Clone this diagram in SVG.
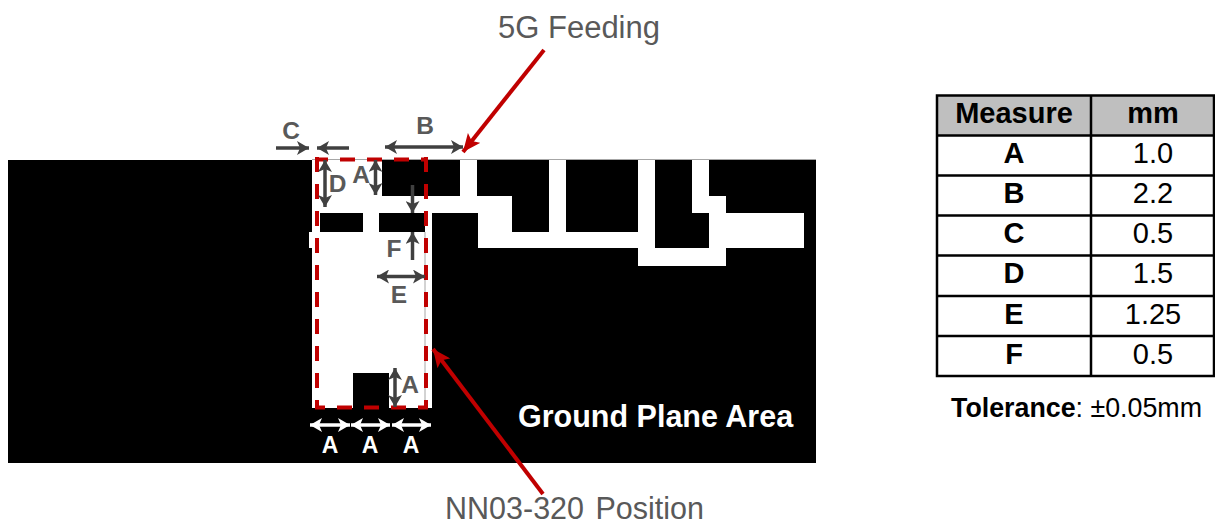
<svg xmlns="http://www.w3.org/2000/svg" width="1215" height="522" viewBox="0 0 1215 522">
<style>
text{font-family:"Liberation Sans",Arial,sans-serif}
.lbl{font-weight:700;font-size:24.500px;fill:#595959;text-anchor:middle}
.wl{font-weight:700;font-size:23px;fill:#fff;text-anchor:middle}
.cap{font-size:31px;fill:#595959}
.g{stroke:#404040;stroke-width:3.500;fill:none;marker-start:url(#gs);marker-end:url(#ge)}
.g1{stroke:#404040;stroke-width:3.500;fill:none;marker-end:url(#ge)}
.w{stroke:#fff;stroke-width:3.500;fill:none;marker-start:url(#ws);marker-end:url(#we)}
.r{stroke:#c00000;stroke-width:4;fill:none;marker-end:url(#re)}
.d{stroke:#c00000;stroke-width:4;fill:none;stroke-dasharray:15 12}
.cell{fill:none;stroke:#000;stroke-width:2.500}
.tb{font-weight:700;font-size:29px;text-anchor:middle;fill:#000}
.td{font-size:29px;text-anchor:middle;fill:#000}
</style>
<defs>
<marker id="ge" markerUnits="userSpaceOnUse" markerWidth="13" markerHeight="14" refX="12" refY="7" orient="auto"><path d="M0 0L12 7L0 14L3 7Z" fill="#404040"/></marker>
<marker id="gs" markerUnits="userSpaceOnUse" markerWidth="13" markerHeight="14" refX="0" refY="7" orient="auto"><path d="M12 0L0 7L12 14L9 7Z" fill="#404040"/></marker>
<marker id="we" markerUnits="userSpaceOnUse" markerWidth="13" markerHeight="14" refX="12" refY="7" orient="auto"><path d="M0 0L12 7L0 14L3 7Z" fill="#fff"/></marker>
<marker id="ws" markerUnits="userSpaceOnUse" markerWidth="13" markerHeight="14" refX="0" refY="7" orient="auto"><path d="M12 0L0 7L12 14L9 7Z" fill="#fff"/></marker>
<marker id="re" markerUnits="userSpaceOnUse" markerWidth="19" markerHeight="16" refX="18" refY="8" orient="auto"><path d="M0 0L18 8L0 16L4 8Z" fill="#c00000"/></marker>
</defs>
<g id="ground-plane">
<rect x="8" y="160" width="808" height="303" fill="#000"/>
<path fill="#fff" d="M312 159H460V159H477V196H512V232H549V159H566V232H638V159H655V248H709V213H692V159H709V196H726V213H804V248H726V266H638V248H478V213H432V408H312V248H309V232H312Z"/>
<rect x="382" y="160" width="78" height="36" fill="#000"/>
<rect x="320" y="213" width="43" height="19" fill="#000"/>
<rect x="379" y="213" width="46" height="19" fill="#000"/>
<rect x="353" y="373" width="36" height="35" fill="#000"/>
<path d="M312 159.500H816M425 232V408" stroke="#a6a6a6" stroke-width="1" fill="none"/>
<text x="518" y="427" font-size="30.500" font-weight="700" fill="#fff">Ground Plane Area</text>
</g>
<g id="position-outline">
<path class="d" d="M316 159.500H427" stroke-dashoffset="3"/>
<path class="d" d="M426 157V409"/>
<path class="d" d="M317 157V409"/>
<path class="d" d="M315 407.500H428" stroke-dashoffset="5"/>
</g>
<g id="connectors">
<path class="r" d="M544 50L463 152"/>
<path class="r" d="M543 494L433 349"/>
<path class="g1" d="M276 148H309"/>
<path class="g1" d="M349 148H317"/>
<path class="g" d="M385 147H463"/>
<path class="g" d="M325 160V207"/>
<path class="g" d="M375.500 160V195"/>
<path class="g1" d="M412.500 185V213"/>
<path class="g1" d="M412.500 260V232"/>
<path class="g" d="M377 276.500H425"/>
<path class="g" d="M395 368V407"/>
<path class="w" d="M310 425H350"/>
<path class="w" d="M351 425H390"/>
<path class="w" d="M392 425H431"/>
</g>
<g id="labels">
<text class="cap" x="498" y="38">5G Feeding</text>
<text class="cap" x="445" y="519" style="font-size:30.500px;word-spacing:3px">NN03-320 Position</text>
<text class="lbl" x="291" y="139">C</text>
<text class="lbl" x="425" y="134">B</text>
<text class="lbl" x="337.500" y="192">D</text>
<text class="lbl" x="361" y="183">A</text>
<text class="lbl" x="394" y="257">F</text>
<text class="lbl" x="399" y="303">E</text>
<text class="lbl" x="410" y="393">A</text>
<text class="wl" x="330" y="453">A</text>
<text class="wl" x="370" y="453">A</text>
<text class="wl" x="411" y="453">A</text>
</g>
<g id="table">
<rect x="937" y="95.500" width="277" height="40" fill="#bfbfbf"/>
<rect class="cell" x="937" y="95.500" width="277" height="280.500"/>
<path class="cell" d="M1091 95.500V376M937 135.500H1214M937 175.500H1214M937 215.500H1214M937 255.500H1214M937 296H1214M937 336H1214"/>
<text class="tb" x="1014" y="123">Measure</text><text class="tb" x="1153" y="123">mm</text>
<text class="tb" x="1014" y="163">A</text><text class="td" x="1153" y="163">1.0</text>
<text class="tb" x="1014" y="203">B</text><text class="td" x="1153" y="203">2.2</text>
<text class="tb" x="1014" y="243">C</text><text class="td" x="1153" y="243">0.5</text>
<text class="tb" x="1014" y="283">D</text><text class="td" x="1153" y="283">1.5</text>
<text class="tb" x="1014" y="324">E</text><text class="td" x="1153" y="324">1.25</text>
<text class="tb" x="1014" y="364">F</text><text class="td" x="1153" y="364">0.5</text>
<text x="951" y="417" font-size="26.800" fill="#000"><tspan font-weight="700">Tolerance</tspan>: ±0.05mm</text>
</g>
</svg>
